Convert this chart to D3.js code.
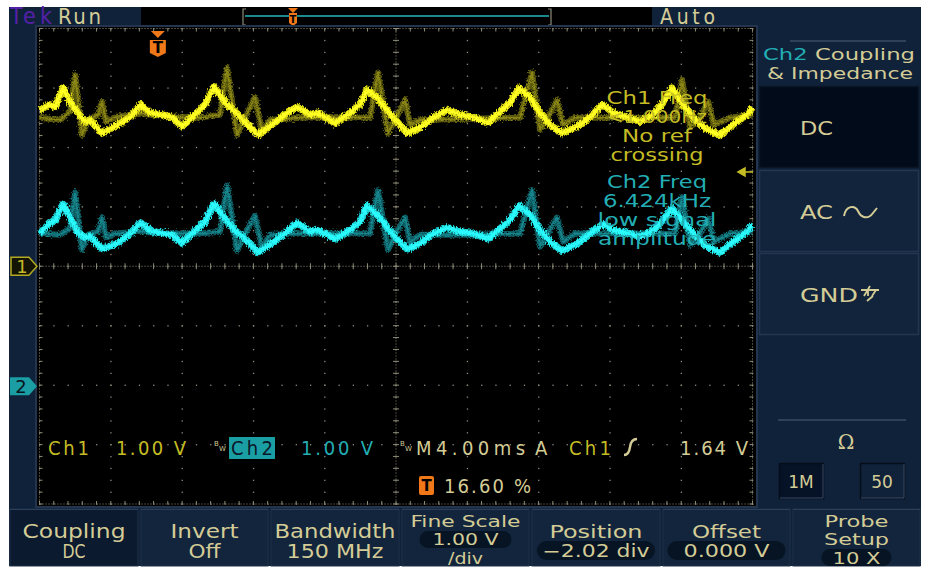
<!DOCTYPE html>
<html><head><meta charset="utf-8">
<script src="https://cdn.jsdelivr.net/npm/d3@7/dist/d3.min.js"></script>
<style>body{margin:0;background:#fff}svg{display:block}</style>
</head><body>
<svg id="c" width="930" height="570"></svg>
<script>
// ---------- DATA (read from the screen) ----------
// time in ms from the left edge of the graticule (10 div x 4 ms)
const traceTime = [0.0,0.59,0.87,1.32,1.71,2.16,2.55,2.83,3.51,4.40,5.08,5.69,6.20,6.87,7.43,7.99,8.72,9.29,9.79,10.24,10.52,10.97,11.42,12.26,13.04,13.77,14.45,15.18,15.62,16.58,17.42,17.98,18.37,18.93,19.49,20.06,20.62,21.35,22.08,22.86,23.59,24.32,25.16,25.83,26.39,26.90,27.52,28.08,28.64,29.31,30.15,30.88,31.61,32.17,32.95,33.69,34.42,34.98,35.49,36.10,36.89,37.45,38.18,38.91,39.69,40.0];
// Ch1 volts (1 V/div, position 0 div)
const ch1Volts = [2.63,2.72,2.67,3.00,2.77,2.58,2.43,2.46,2.24,2.38,2.51,2.72,2.58,2.55,2.51,2.35,2.55,2.72,3.02,2.84,2.72,2.60,2.46,2.21,2.38,2.55,2.68,2.55,2.58,2.41,2.58,2.72,2.97,2.84,2.63,2.43,2.24,2.33,2.50,2.63,2.55,2.51,2.41,2.60,2.75,3.00,2.84,2.58,2.38,2.24,2.35,2.51,2.72,2.58,2.51,2.43,2.55,2.75,3.00,2.72,2.43,2.30,2.21,2.38,2.55,2.68];
// Ch2 volts (1 V/div, position -2.02 div)
const ch2Volts = [2.57,2.75,2.78,3.07,2.84,2.58,2.50,2.53,2.31,2.41,2.57,2.75,2.62,2.58,2.55,2.41,2.62,2.77,3.07,2.89,2.78,2.62,2.52,2.25,2.41,2.58,2.75,2.60,2.63,2.48,2.63,2.77,3.04,2.89,2.68,2.48,2.31,2.40,2.57,2.67,2.60,2.57,2.48,2.65,2.80,3.04,2.89,2.63,2.43,2.28,2.40,2.57,2.73,2.63,2.58,2.52,2.62,2.80,3.00,2.77,2.50,2.35,2.25,2.43,2.60,2.72];
// persistence (older acquisitions) traces
const persistTime = [0.0,1.15,1.71,2.0,2.38,2.72,3.29,3.51,3.74,4.24,5.63,6.76,9.00,10.12,10.52,11.08,11.53,12.09,12.48,12.93,14.62,16.86,18.54,18.99,19.55,19.94,20.51,20.79,21.35,24.15,26.96,27.63,28.08,28.53,29.03,29.37,30.04,33.69,35.66,36.05,36.50,37.06,37.51,37.84,38.74,40.0];
const ch1PersistVolts = [2.50,2.46,2.60,3.22,2.21,2.46,2.55,2.77,2.43,2.51,2.57,2.53,2.50,2.55,3.34,2.21,2.50,2.85,2.26,2.46,2.50,2.51,2.50,3.26,2.24,2.46,2.80,2.38,2.46,2.48,2.50,3.26,2.30,2.50,2.80,2.38,2.50,2.50,2.50,3.14,2.33,2.50,2.77,2.38,2.50,2.55];
const ch2PersistVolts = [2.57,2.55,2.66,3.26,2.30,2.55,2.60,2.84,2.50,2.57,2.60,2.58,2.57,2.60,3.38,2.28,2.57,2.87,2.33,2.55,2.57,2.57,2.57,3.30,2.30,2.55,2.84,2.43,2.55,2.55,2.57,3.30,2.35,2.57,2.84,2.43,2.57,2.57,2.57,3.18,2.38,2.57,2.82,2.43,2.57,2.60];
const hDivs = [0,1,2,3,4,5,6,7,8,9,10];
const vDivs = [-4,-3,-2,-1,0,1,2,3,4];
const ch1Measure = ["Ch1 Freq","<1.000Hz","No ref","crossing"];
const ch2Measure = ["Ch2 Freq","6.424kHz","low signal","amplitude"];
const bottomButtons = [
  {top:"Coupling", mid:"DC"},
  {top:"Invert", mid:"Off"},
  {top:"Bandwidth", mid:"150 MHz"},
  {top:"Fine Scale", pill:"1.00 V", bot:"/div"},
  {top:"Position", pill:"\u22122.02 div"},
  {top:"Offset", pill:"0.000 V"},
  {top:"Probe", mid:"Setup", pill:"10 X", stack:true}
];
const sideButtons = ["DC","AC","GND"];

// ---------- DRAW ----------
const svg = d3.select("#c");
const BG="#10223a", BEIGE="#d4cc96", YEL="#c4bc24", CYN="#22aeb4";
const COND="'DejaVu Sans Condensed','DejaVu Sans',sans-serif";
const SANS="'DejaVu Sans',sans-serif";

function T_(sel,xp,yp,s,opt){
  opt=opt||{};
  const t=sel.append("text").attr("x",xp).attr("y",yp).attr("font-family",opt.ff||COND).attr("font-size",opt.fs||20).attr("fill",opt.fill||BEIGE).text(s);
  if(opt.anchor) t.attr("text-anchor",opt.anchor);
  if(opt.len) t.attr("textLength",opt.len).attr("lengthAdjust",opt.adj||"spacing");
  if(opt.fw) t.attr("font-weight",opt.fw);
  return t;
}

const defs = svg.append("defs");
const f = defs.append("filter").attr("id","noise").attr("x","-2%").attr("y","-30%").attr("width","104%").attr("height","160%");
f.append("feTurbulence").attr("type","fractalNoise").attr("baseFrequency","1.2 0.4").attr("numOctaves",2).attr("seed",4).attr("result","t");
f.append("feDisplacementMap").attr("in","SourceGraphic").attr("in2","t").attr("scale",6).attr("xChannelSelector","R").attr("yChannelSelector","G");
const f2 = defs.append("filter").attr("id","noise2").attr("x","-2%").attr("y","-30%").attr("width","104%").attr("height","160%");
f2.append("feTurbulence").attr("type","fractalNoise").attr("baseFrequency","1.0 0.5").attr("numOctaves",2).attr("seed",9).attr("result","t");
f2.append("feDisplacementMap").attr("in","SourceGraphic").attr("in2","t").attr("scale",9).attr("xChannelSelector","R").attr("yChannelSelector","G");

// screen background
svg.append("rect").attr("x",9).attr("y",7).attr("width",912).attr("height",559).attr("fill",BG);

// top bar
T_(svg,10,24,"Tek",{fs:23,fill:"#5420a8",len:42});
T_(svg,58,24,"Run",{fs:22,len:43});
svg.append("rect").attr("x",141).attr("y",7).attr("width",511).attr("height",19).attr("fill","#000");
svg.append("line").attr("x1",141).attr("x2",652).attr("y1",26.5).attr("y2",26.5).attr("stroke","#2a3c58");
T_(svg,660,24,"Auto",{fs:21,len:55});
svg.append("path").attr("d","M246,9 H243 V25 H246 M548,9 H551 V25 H548").attr("fill","none").attr("stroke","#8a8a7a").attr("stroke-width",1.2);
svg.append("line").attr("x1",245).attr("x2",549).attr("y1",16).attr("y2",16).attr("stroke","#1c8a8c").attr("stroke-width",2);
svg.append("path").attr("d","M288,8 H298 L293,13 Z M289,13 H297 V23 L293,26 L289,23 Z").attr("fill","#f07818");
T_(svg,293,23,"T",{ff:SANS,fw:"bold",fs:10,fill:"#000",anchor:"middle"});

// graticule
const L=39.5, R=752.5, T=28.5, B=504;
const x = d3.scaleLinear().domain([0,40]).range([L,R]);
const y1 = d3.scaleLinear().domain([-4,4]).range([B,T]);
const y2 = d3.scaleLinear().domain([-4+2.02,4+2.02]).range([B,T]);
svg.append("rect").attr("x",36).attr("y",26).attr("width",721).attr("height",481).attr("fill","#000").attr("stroke","#23344e").attr("stroke-width",2);
const g = svg.append("g");
const DOT="#8d8b78";
const divW=(R-L)/10, divH=(B-T)/8;
hDivs.forEach(d=>{
  const xx=x(d*4);
  d3.range(0,41).forEach(k=>{ g.append("rect").attr("x",xx-0.5).attr("y",T+k*divH/5-0.5).attr("width",1.3).attr("height",1.3).attr("fill",DOT);});
});
vDivs.forEach(v=>{
  const yy=y1(v);
  d3.range(0,51).forEach(k=>{ g.append("rect").attr("x",L+k*divW/5-0.5).attr("y",yy-0.5).attr("width",1.3).attr("height",1.3).attr("fill",DOT);});
});
const cx=x(20), cy=y1(0);
g.append("line").attr("x1",cx).attr("x2",cx).attr("y1",T).attr("y2",B).attr("stroke",DOT).attr("stroke-dasharray","1,2");
g.append("line").attr("x1",L).attr("x2",R).attr("y1",cy).attr("y2",cy).attr("stroke",DOT).attr("stroke-dasharray","1,2");
d3.range(0,41).forEach(k=>{const yy=T+k*divH/5; g.append("line").attr("x1",cx-3).attr("x2",cx+3).attr("y1",yy).attr("y2",yy).attr("stroke",DOT);});
d3.range(0,51).forEach(k=>{const xx=L+k*divW/5; g.append("line").attr("x1",xx).attr("x2",xx).attr("y1",cy-3).attr("y2",cy+3).attr("stroke",DOT);});
[[L,R,T,T],[L,R,B,B],[L,L,T,B],[R,R,T,B]].forEach(([a,b,c,d])=>g.append("line").attr("x1",a).attr("x2",b).attr("y1",c).attr("y2",d).attr("stroke",DOT).attr("stroke-dasharray","1,2"));
d3.range(0,51).forEach(k=>{const xx=L+k*divW/5;
  g.append("line").attr("x1",xx).attr("x2",xx).attr("y1",T).attr("y2",T+3).attr("stroke",DOT);
  g.append("line").attr("x1",xx).attr("x2",xx).attr("y1",B-3).attr("y2",B).attr("stroke",DOT);});
d3.range(0,41).forEach(k=>{const yy=T+k*divH/5;
  g.append("line").attr("x1",L).attr("x2",L+3).attr("y1",yy).attr("y2",yy).attr("stroke",DOT);
  g.append("line").attr("x1",R-3).attr("x2",R).attr("y1",yy).attr("y2",yy).attr("stroke",DOT);});

// trigger marker in graticule (16.60%)
const tx = x(40*0.166);
svg.append("path").attr("d",`M${tx-7},31 H${tx+7} L${tx},38 Z M${tx-8},40 H${tx+8} V53 L${tx},57 L${tx-8},53 Z`).attr("fill","#f07818");
T_(svg,tx,53,"T",{ff:SANS,fw:"bold",fs:15,fill:"#000",anchor:"middle"});

// traces
const idx = d3.range(traceTime.length), pidx=d3.range(persistTime.length);
const line1 = d3.line().x(i=>x(traceTime[i])).y(i=>y1(ch1Volts[i]));
const line2 = d3.line().x(i=>x(traceTime[i])).y(i=>y2(ch2Volts[i]));
const pl1 = d3.line().x(i=>x(persistTime[i])).y(i=>y1(ch1PersistVolts[i]));
const pl2 = d3.line().x(i=>x(persistTime[i])).y(i=>y2(ch2PersistVolts[i]));
const tg = svg.append("g");
function trace(d,wide,core,wc,wk,filt){
  tg.append("path").attr("d",d).attr("fill","none").attr("stroke",wide).attr("stroke-width",wc).attr("stroke-linejoin","round").attr("filter",filt);
  tg.append("path").attr("d",d).attr("fill","none").attr("stroke",core).attr("stroke-width",wk).attr("stroke-linejoin","round").attr("filter",filt);
}
trace(pl1(pidx),"#5a580c","#8a8616",6,2,"url(#noise2)");
trace(pl2(pidx),"#0e5a60","#16868c",6,2,"url(#noise2)");
trace(line1(idx),"#d8d412","#ffff22",7,4,"url(#noise)");
trace(line2(idx),"#1cd0d4","#2cfafc",7,4,"url(#noise)");

// measurement texts
const mx=657;
const m1len=[101,100,70,93], m2len=[100,108,119,118];
ch1Measure.forEach((s,i)=>T_(svg,mx,104+i*19,s,{ff:SANS,fs:17,fill:YEL,anchor:"middle",len:m1len[i],adj:"spacingAndGlyphs"}));
ch2Measure.forEach((s,i)=>T_(svg,mx,188+i*19,s,{ff:SANS,fs:17,fill:CYN,anchor:"middle",len:m2len[i],adj:"spacingAndGlyphs"}));
svg.append("path").attr("d","M738,172 L745,168 L745,176 Z M745,172 H753").attr("fill",YEL).attr("stroke",YEL).attr("stroke-width",1.5);

// channel markers
svg.append("path").attr("d",`M11,${cy-9} H29 L37,${cy} L29,${cy+9} H11 Z`).attr("fill","#141404").attr("stroke","#b4aa22").attr("stroke-width",1.5);
T_(svg,22,cy+7,"1",{ff:SANS,fs:18,fill:"#c4b82a",anchor:"middle"});
const c2=y2(0);
svg.append("path").attr("d",`M10,${c2-9} H29 L37,${c2} L29,${c2+9} H10 Z`).attr("fill","#1a9ea4");
T_(svg,21,c2+7,"2",{ff:SANS,fs:18,fill:"#0a1420",anchor:"middle"});

// readout row
const ry=455, rf=20;
T_(svg,48,ry,"Ch1",{fs:rf,fill:YEL,len:41});
T_(svg,116,ry,"1.00 V",{fs:rf,fill:YEL,len:70});
T_(svg,214,446,"B",{ff:SANS,fs:7}); T_(svg,219,451,"W",{ff:SANS,fs:7});
svg.append("rect").attr("x",229).attr("y",437).attr("width",46).attr("height",22).attr("fill","#1a9ea4");
T_(svg,231,ry,"Ch2",{fs:rf,fill:"#0a1628",len:42});
T_(svg,301,ry,"1.00 V",{fs:rf,fill:CYN,len:72});
T_(svg,400,446,"B",{ff:SANS,fs:7}); T_(svg,405,451,"W",{ff:SANS,fs:7});
T_(svg,416,ry,"M4.00ms",{fs:rf,len:109});
T_(svg,535,ry,"A",{fs:rf,len:16});
T_(svg,569,ry,"Ch1",{fs:rf,fill:YEL,len:42});
svg.append("path").attr("d","M624,455 Q629,455 630,447 Q631,439 637,439").attr("fill","none").attr("stroke",BEIGE).attr("stroke-width",2.4);
T_(svg,680,ry,"1.64 V",{fs:rf,len:68});
svg.append("rect").attr("x",419).attr("y",476).attr("width",15).attr("height",19).attr("rx",2).attr("fill","#f07818");
T_(svg,426.5,491,"T",{ff:SANS,fw:"bold",fs:15,fill:"#000",anchor:"middle"});
T_(svg,444,493,"16.60 %",{fs:rf,len:87});

// right panel
svg.append("line").attr("x1",790).attr("x2",906).attr("y1",41).attr("y2",41).attr("stroke","#3a4c66").attr("stroke-width",1.5);
const hd = svg.append("text").attr("x",763).attr("y",60).attr("font-family",SANS).attr("font-size",16.5).attr("fill",BEIGE).attr("textLength",152).attr("lengthAdjust","spacingAndGlyphs");
hd.append("tspan").attr("fill",CYN).text("Ch2");
hd.append("tspan").text(" Coupling");
T_(svg,767,79,"& Impedance",{ff:SANS,fs:16.5,len:146,adj:"spacingAndGlyphs"});
const sbY=[86,170,253];
sideButtons.forEach((s,i)=>{
  svg.append("rect").attr("x",759.5).attr("y",sbY[i]+0.5).attr("width",159).attr("height",81).attr("fill",i===0?"#020b1a":"#12243b").attr("stroke",i===0?"#0a1626":"#24364f").attr("stroke-width",1.5);
  T_(svg,800,sbY[i]+49,s,{ff:SANS,fs:20,len:i===2?58:33,adj:"spacingAndGlyphs"});
});
svg.append("path").attr("d","M844,216 C846,205 855,205 858,211 C861,218 868,220 873,213 L877,208").attr("fill","none").attr("stroke",BEIGE).attr("stroke-width",2);
svg.append("path").attr("d","M861,290 H879 M864,296 L870,286 M868,296 V290 M872,296 L876,290 M867,301 L873,296").attr("fill","none").attr("stroke",BEIGE).attr("stroke-width",1.8);
svg.append("line").attr("x1",778).attr("x2",906).attr("y1",420).attr("y2",420).attr("stroke","#3a4c66").attr("stroke-width",1.5);
T_(svg,846,449,"\u03A9",{ff:"'DejaVu Serif',serif",fs:20,anchor:"middle"});
[[779,"1M","#061226"],[860,"50","#10223a"]].forEach(([bx,s,fc])=>{
  svg.append("rect").attr("x",bx+0.5).attr("y",463.5).attr("width",44).attr("height",35).attr("fill",fc).attr("stroke","#050d1a").attr("stroke-width",1.5);
  svg.append("path").attr("d",`M${bx+1},498 H${bx+44} V464`).attr("fill","none").attr("stroke","#3a4c66").attr("stroke-width",1);
  T_(svg,bx+22,488,s,{ff:SANS,fs:17,anchor:"middle"});
});

// bottom buttons
const bx0=[9,140,270,401,531,662,792], bw=[130,129,130,129,130,129,129];
const blen={"Coupling":103,"DC":23,"Invert":68,"Off":32,"Bandwidth":121,"150 MHz":97,"Fine Scale":110,"1.00 V":66,"/div":35,"Position":93,"\u22122.02 div":107,"Offset":69,"0.000 V":86,"Probe":64,"Setup":65,"10 X":48};
bottomButtons.forEach((b,i)=>{
  const xb=bx0[i], w=bw[i], c=xb+w/2;
  svg.append("rect").attr("x",xb+1).attr("y",509).attr("width",w-2).attr("height",57).attr("fill",i===0?"#0b1a2e":"#12253c").attr("stroke","#1e3048").attr("stroke-width",1);
  svg.append("line").attr("x1",xb+1).attr("x2",xb+w-1).attr("y1",509.5).attr("y2",509.5).attr("stroke","#2c3f5a");
  const txt=(yy,s,fs)=>T_(svg,c,yy,s,{fs:fs||19,anchor:"middle",len:blen[s],adj:"spacingAndGlyphs"});
  if(b.stack){ txt(527,b.top,16); txt(545,b.mid,16);
    svg.append("rect").attr("x",c-35).attr("y",549).attr("width",70).attr("height",17).attr("rx",8.5).attr("fill","#061424");
    txt(564,b.pill,16);
  } else if(b.pill){
    if(b.bot){ txt(527,b.top,16);
      svg.append("rect").attr("x",c-46).attr("y",531).attr("width",92).attr("height",17).attr("rx",8.5).attr("fill","#061424");
      txt(545,b.pill,16); txt(564,b.bot,16);
    } else { txt(538,b.top,18);
      svg.append("rect").attr("x",c-59).attr("y",541).attr("width",118).attr("height",19).attr("rx",9.5).attr("fill","#061424");
      txt(557,b.pill,17);
    }
  } else { txt(538,b.top); txt(558,b.mid); }
});
</script>
</body></html>
